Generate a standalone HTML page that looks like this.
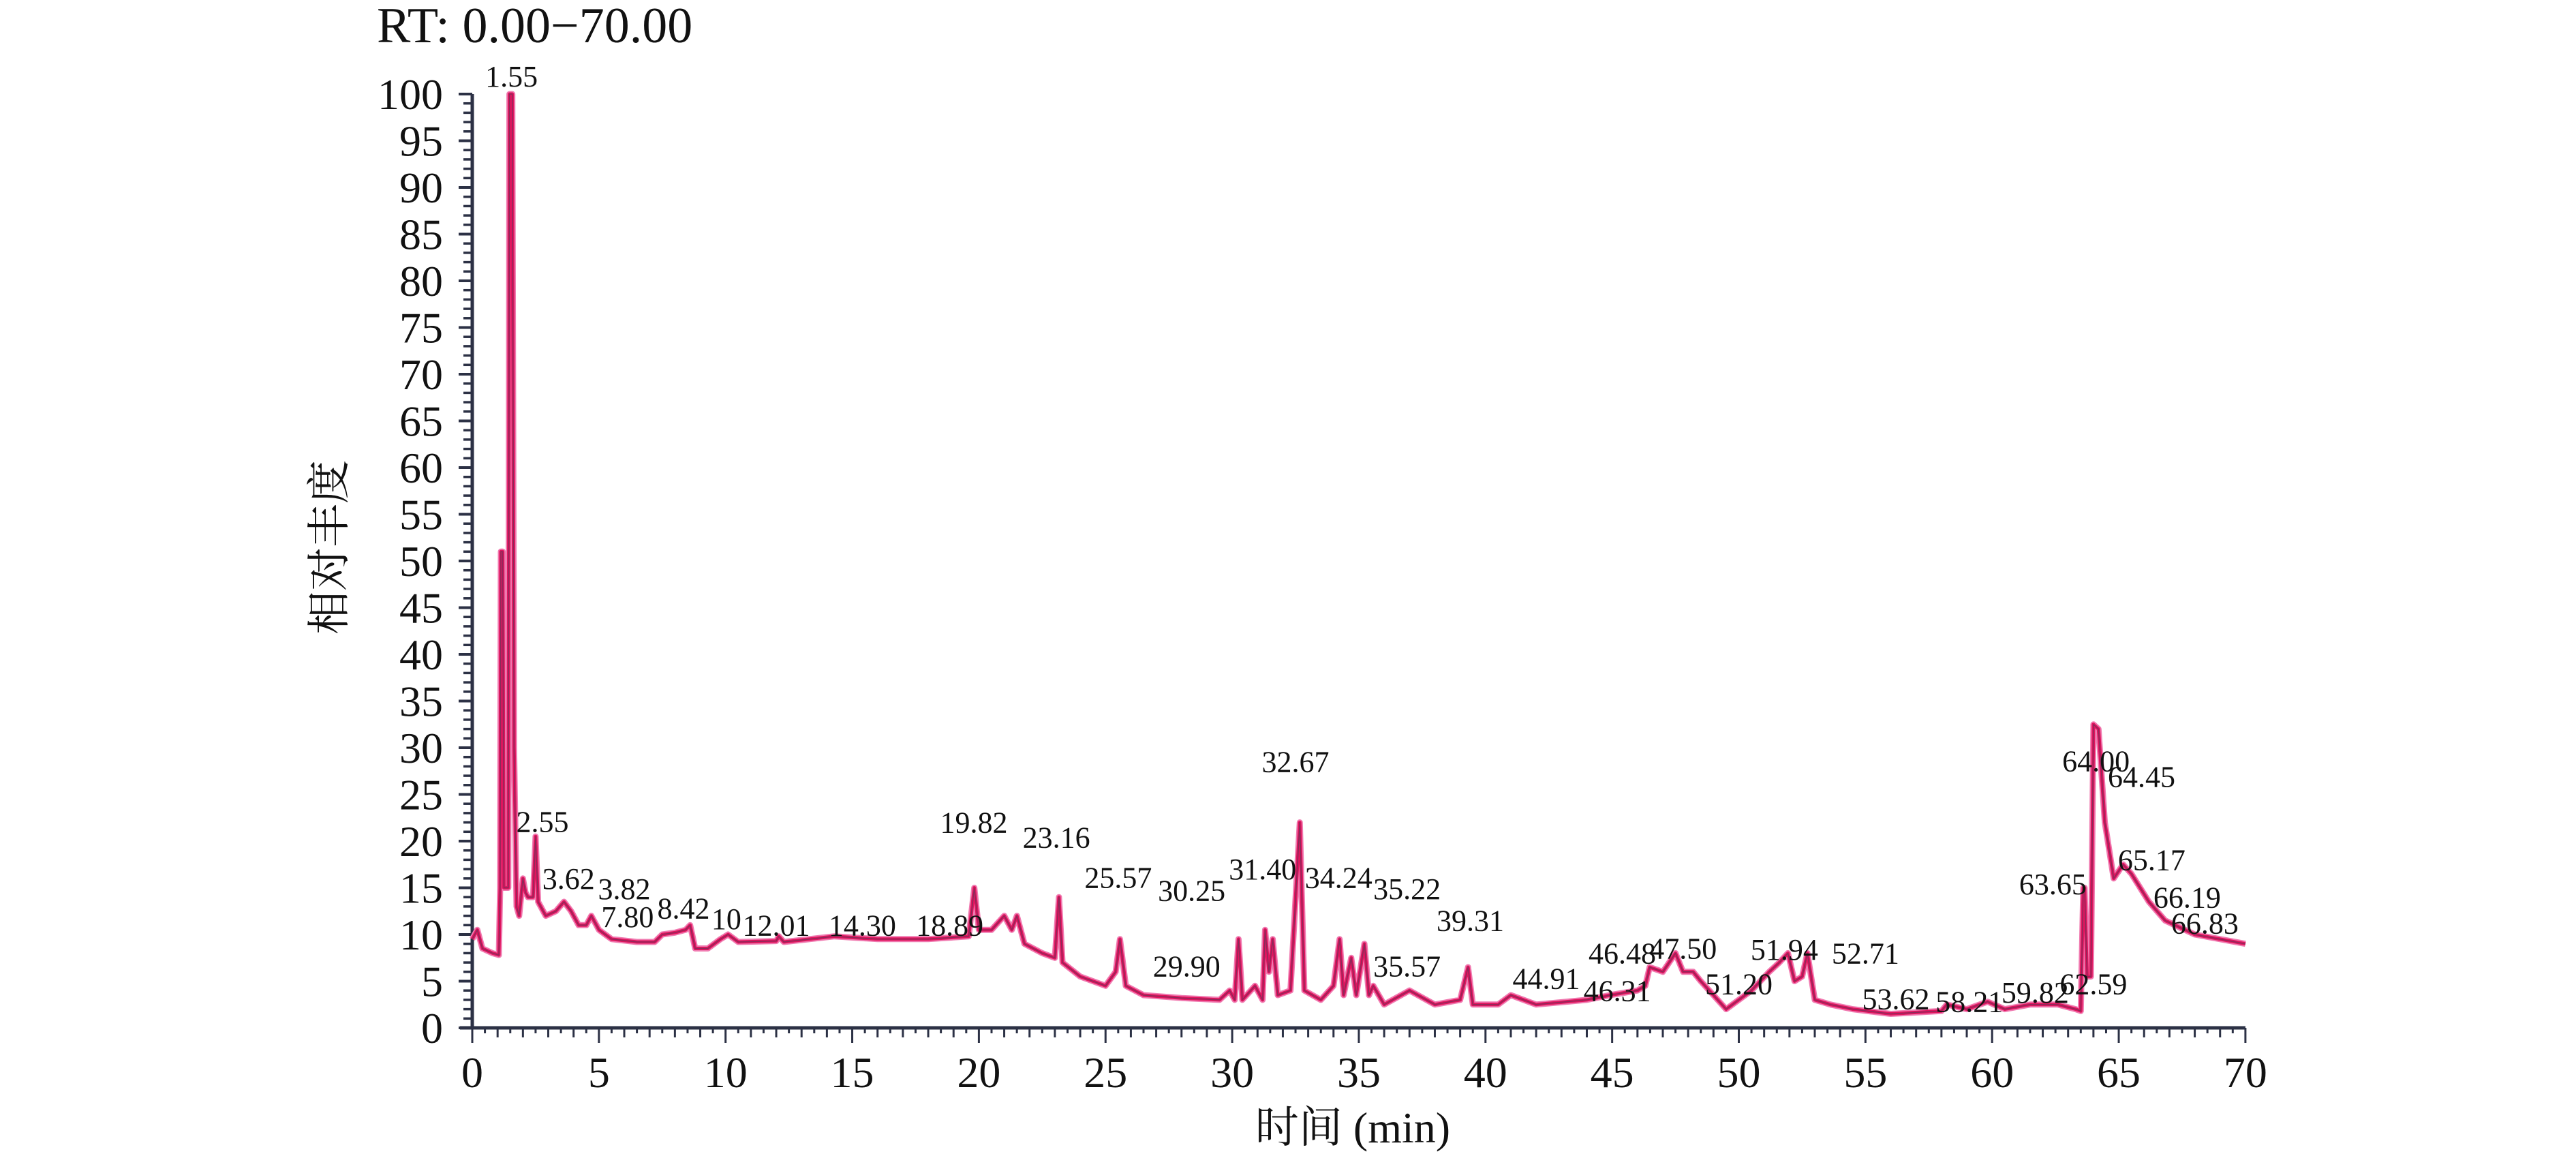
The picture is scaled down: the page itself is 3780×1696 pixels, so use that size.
<!DOCTYPE html>
<html><head><meta charset="utf-8"><style>
html,body{margin:0;padding:0;background:#fff;}
svg{display:block;}
</style></head><body>
<svg id="chart" width="3780" height="1696" viewBox="0 0 3780 1696" xmlns="http://www.w3.org/2000/svg" font-family="'Liberation Serif','Noto Serif CJK SC',serif">
<text x="553" y="62" font-size="74" fill="#111">RT: 0.00−70.00</text>
<text transform="translate(505,803) rotate(-90)" text-anchor="middle" font-size="64" fill="#111" font-family="'Liberation Serif','Noto Serif CJK SC',serif">相对丰度</text>
<text x="1985" y="1676" text-anchor="middle" font-size="64" fill="#111" font-family="'Liberation Serif','Noto Serif CJK SC',serif">时间 (min)</text>
<g id="axes"></g>
<g id="series"></g>
<g id="labels"></g>
</svg>
<script>
const traceTimes = [0,0.2,0.4,0.8,1.05,1.1,1.13,1.2,1.25,1.35,1.42,1.47,1.58,1.65,1.75,1.85,2.0,2.1,2.2,2.4,2.5,2.6,2.9,3.3,3.62,3.9,4.2,4.5,4.7,5.0,5.5,6.5,7.2,7.5,8.0,8.42,8.6,8.8,9.3,9.8,10.1,10.5,12,12.1,12.3,14.3,16,18,19.6,19.82,20.0,20.5,21,21.3,21.5,21.8,22.5,23.0,23.16,23.3,24,25,25.4,25.57,25.8,26.5,28,29.5,29.9,30.1,30.25,30.4,30.9,31.2,31.3,31.45,31.6,31.8,32.3,32.67,32.85,33.5,34.0,34.24,34.4,34.7,34.9,35.22,35.4,35.57,36,37,38,39.0,39.31,39.5,40.5,41,42,44,44.91,46,46.31,46.48,47,47.5,47.8,48.2,48.5,49,49.5,50,50.5,51.2,51.6,51.94,52.2,52.5,52.71,53,53.62,54.5,56,58,58.21,59,59.82,60.5,61.5,62.59,63.3,63.5,63.6,63.65,63.75,63.9,64.0,64.2,64.45,64.8,65.17,65.5,66.19,66.83,68,70];
const traceValues = [9.5,10.5,8.5,8,7.8,15,51,51,15,15,15,100,100,30,13,12,16,14.5,14,14,20.5,13.5,12,12.5,13.5,12.5,11,11,12,10.5,9.5,9.2,9.2,10,10.2,10.5,11,8.5,8.5,9.5,10,9.2,9.3,9.8,9.2,9.8,9.5,9.5,9.8,15,10.5,10.5,12,10.5,12,9,8,7.5,14,7,5.5,4.5,6,9.5,4.5,3.5,3.2,3,4,3,9.5,3,4.5,3,10.5,6,9.5,3.5,4,22,4,3,4.5,9.5,3.5,7.5,3.5,9,3.5,4.5,2.5,4,2.5,3,6.5,2.5,2.5,3.5,2.5,3,3.5,4,4.5,6.5,6,8,6,6,5,3.5,2,3,4,6,7,8,5,5.5,8,3,2.5,2,1.5,1.8,2.5,2,2.8,2,2.5,2.5,2,1.8,15,15,5.5,5.5,32.5,32,22,16,17.5,16.5,13.5,11.5,10,9];
const peakLabels = ["1.55","2.55","3.62","3.82","7.80","8.42","10","12.01","14.30","18.89","19.82","23.16","25.57","30.25","29.90","31.40","32.67","34.24","35.22","35.57","39.31","44.91","46.31","46.48","47.50","51.20","51.94","52.71","53.62","58.21","59.82","62.59","63.65","64.00","64.45","65.17","66.19","66.83"];
const labelTimes = [1.55,2.77,3.80,6.0,6.13,8.34,10.03,12.0,15.4,18.85,19.8,23.06,25.5,28.4,28.2,31.2,32.5,34.2,36.9,36.9,39.4,42.4,45.2,45.4,47.8,50.0,51.8,55.0,56.2,59.1,61.7,64.0,62.4,64.1,65.9,66.3,67.7,68.4];
const labelValues = [100.8,21.0,14.9,13.8,10.8,11.7,10.6,9.9,9.9,9.9,20.9,19.3,15.0,13.6,5.5,15.9,27.4,15.0,13.8,5.5,10.4,4.2,2.9,6.9,7.4,3.6,7.3,6.9,2.0,1.7,2.7,3.6,14.3,27.5,25.8,16.9,12.9,10.1];
const xTicks = [0,5,10,15,20,25,30,35,40,45,50,55,60,65,70];
const yTicks = [0,5,10,15,20,25,30,35,40,45,50,55,60,65,70,75,80,85,90,95,100];

const X0=693, X1=693+70*37.17, Y0=1508, Y1=138;
const xs = t => X0 + (t/70)*(X1-X0);
const ys = v => Y0 - (v/100)*(Y0-Y1);
const NS="http://www.w3.org/2000/svg";
function mk(tag, attrs, parent){const e=document.createElementNS(NS,tag);for(const k in attrs)e.setAttribute(k,attrs[k]);parent.appendChild(e);return e;}

const axes=document.getElementById('axes');
const yAxis=mk('line',{x1:X0,y1:Y1,x2:X0,y2:Y0+2,stroke:'#2c3145','stroke-width':5},axes);


const xAxis=mk('line',{x1:X0-18,y1:Y0,x2:X1,y2:Y0,stroke:'#2c3145','stroke-width':5},axes);


for(let v=0;v<=100;v++){
  const major=v%5===0;
  const tk=mk('line',{x1:X0-(major?20:13),y1:ys(v),x2:X0,y2:ys(v),stroke:'#2c3145','stroke-width':major?4:3.5},axes);
  
  
}
for(let t=0;t<=70;t+=0.5){
  const major=t%5===0, mid=t%1===0;
  const tk=mk('line',{x1:xs(t),y1:Y0,x2:xs(t),y2:Y0+(major?22:(mid?14:8)),stroke:'#2c3145','stroke-width':3},axes);
  
  
}
yTicks.forEach(v=>{
  const tx=mk('text',{x:650,y:ys(v)+22,'text-anchor':'end','font-size':64,fill:'#111'},axes);
  tx.textContent=v;
  
  
});
xTicks.forEach(t=>{
  const tx=mk('text',{x:xs(t),y:1595,'text-anchor':'middle','font-size':64,fill:'#111'},axes);
  tx.textContent=t;
  
  
});

const series=document.getElementById('series');
let d='';
traceTimes.forEach((t,i)=>{d+=(i?'L':'M')+xs(t).toFixed(1)+' '+ys(traceValues[i]).toFixed(1)+' ';});
const halo=mk('path',{d:d,fill:'none',stroke:'#f07ab0','stroke-width':9,'stroke-linejoin':'round'},series);


const line=mk('path',{d:d,fill:'none',stroke:'#e0155e','stroke-width':5,'stroke-linejoin':'round'},series);


const core=mk('path',{d:d,fill:'none',stroke:'#8a2a5a','stroke-width':1.5,'stroke-linejoin':'round'},series);



const labels=document.getElementById('labels');
peakLabels.forEach((s,i)=>{
  const tx=mk('text',{x:xs(labelTimes[i]),y:ys(labelValues[i]),'text-anchor':'middle','font-size':44,fill:'#111'},labels);
  tx.textContent=s;
  
  
});
</script>
</body></html>
